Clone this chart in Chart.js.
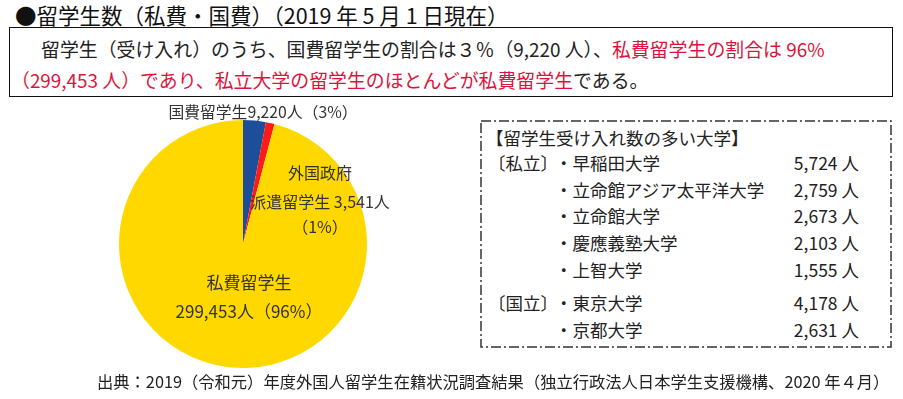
<!DOCTYPE html>
<html><head><meta charset="utf-8">
<script src="https://cdn.jsdelivr.net/npm/chart.js@4.4.1/dist/chart.umd.min.js"></script>
<style>
html,body{margin:0;padding:0}
body{width:903px;height:399px;background:#fff;position:relative;overflow:hidden;font-family:"Noto Sans CJK JP","Noto Sans",sans-serif;color:#222}
#title{position:absolute;left:15px;top:1px;font-size:21.5px;line-height:27px;white-space:nowrap;color:#111}
#box{position:absolute;left:9px;top:27px;width:884px;height:70px;border:1.5px solid #111;box-sizing:border-box}
.ln{position:absolute;white-space:nowrap;font-size:18.9px;line-height:24px;color:#222}
.red{color:#dc143c}
#chartWrap{position:absolute;left:93px;top:92px;width:300px;height:300px}
#tbl{position:absolute;left:480px;top:120px;width:412px;height:228px}
#tbl svg{position:absolute;left:0;top:0}
.t{position:absolute;white-space:nowrap;font-size:17.5px;line-height:24px;color:#222}
#foot{position:absolute;left:97px;top:369px;font-size:16.3px;line-height:24px;white-space:nowrap;color:#222;z-index:2}
</style></head>
<body>
<div id="title"></div>
<div id="box"></div>
<div id="chartWrap"><canvas id="c"></canvas></div>
<div id="tbl"><svg width="412" height="228"><rect x="1" y="1" width="410" height="226" fill="none" stroke="#333" stroke-width="1.5" stroke-dasharray="10 3 2 3"/></svg></div>
<div id="foot"></div>
<script>
// ---- data ----
const titleText = '●留学生数（私費・国費）（2019 年 5 月 1 日現在）';
const sliceNames = ['国費留学生', '外国政府派遣留学生', '私費留学生'];
const sliceValues = [9220, 3541, 299453];
const slicePercents = ['3%', '1%', '96%'];
const uniGroups = ['〔私立〕', '', '', '', '', '〔国立〕', ''];
const uniNames = ['早稲田大学', '立命館アジア太平洋大学', '立命館大学', '慶應義塾大学', '上智大学', '東京大学', '京都大学'];
const uniCounts = [5724, 2759, 2673, 2103, 1555, 4178, 2631];
const tableTitle = '【留学生受け入れ数の多い大学】';
const sourceText = '出典：2019（令和元）年度外国人留学生在籍状況調査結果（独立行政法人日本学生支援機構、2020 年４月）';
const line1Black = '留学生（受け入れ）のうち、国費留学生の割合は３％（9,220 人）、';
const line1Red = '私費留学生の割合は 96%';
const line2Red = '（299,453 人）であり、私立大学の留学生のほとんどが私費留学生';
const line2Black = 'である。';

const fmt = v => v.toLocaleString('en-US');

// ---- text blocks ----
document.getElementById('title').textContent = titleText;
const box = document.getElementById('box');
function addLine(parts, left, top){
  const d = document.createElement('div'); d.className='ln'; d.style.left=left+'px'; d.style.top=top+'px';
  parts.forEach(([txt, red])=>{const s=document.createElement('span'); if(red) s.className='red'; s.textContent=txt; d.appendChild(s);});
  box.appendChild(d);
}
addLine([[line1Black,false],[line1Red,true]], 31, 8.5);
addLine([[line2Red,true],[line2Black,false]], 1, 40);

document.getElementById('foot').textContent = sourceText;

// ---- table ----
const tbl = document.getElementById('tbl');
function addT(txt, left, top, align){
  const d=document.createElement('div'); d.className='t'; d.textContent=txt; d.style.top=top+'px';
  if(align==='right'){d.style.right=(412-left)+'px';} else d.style.left=left+'px';
  tbl.appendChild(d); return d;
}
addT(tableTitle, 6, 6);
const rowTops = [31, 58, 84, 111, 138, 171, 198];
uniNames.forEach((n,i)=>{
  if(uniGroups[i]) addT(uniGroups[i], 8, rowTops[i]);
  addT('・' + n, 75, rowTops[i]);
  addT(fmt(uniCounts[i]) + ' 人', 379, rowTops[i], 'right');
});

// ---- pie ----
const labelLines = [
  [`${sliceNames[0]}${fmt(sliceValues[0])}人（${slicePercents[0]}）`],
  [sliceNames[1].slice(0,4), `${sliceNames[1].slice(4)} ${fmt(sliceValues[1])}人`, `（${slicePercents[1]}）`],
  [sliceNames[2], `${fmt(sliceValues[2])}人（${slicePercents[2]}）`]
];
const labelPlugin = {
  id: 'pieLabels',
  afterDatasetsDraw(chart, args, opts){
    const arc = chart.getDatasetMeta(0).data[0];
    const cx = arc.x, cy = arc.y;
    const ctx = chart.ctx;
    ctx.save();
    ctx.fillStyle = opts.color;
    ctx.textAlign = 'center';
    ctx.textBaseline = 'middle';
    labelLines.forEach((lines, i)=>{
      const p = opts.positions[i];
      ctx.font = opts.fonts[i];
      lines.forEach((t, j)=>{
        ctx.fillText(t, cx + p.dx, cy + p.dy[j]);
      });
    });
    ctx.restore();
  }
};

new Chart(document.getElementById('c'), {
  type: 'pie',
  data: {
    labels: sliceNames,
    datasets: [{
      data: sliceValues,
      backgroundColor: ['#1f4e99', '#ff1a1a', '#ffd800'],
      borderWidth: 0,
      hoverOffset: 0,
      offset: 0
    }]
  },
  options: {
    responsive: true,
    maintainAspectRatio: false,
    animation: false,
    layout: { padding: { left: 26, right: 26, top: 28, bottom: 24 } },
    plugins: {
      legend: { display: false },
      tooltip: { enabled: false },
      pieLabels: {
        color: '#333',
        fonts: ['15.8px "Noto Sans CJK JP"', '16px "Noto Sans CJK JP"', '17px "Noto Sans CJK JP"'],
        positions: [
          { dx: 20, dy: [-132] },
          { dx: 77, dy: [-71, -42, -17] },
          { dx: 6, dy: [39, 68] }
        ]
      }
    }
  },
  plugins: [labelPlugin]
});
</script>
</body></html>
